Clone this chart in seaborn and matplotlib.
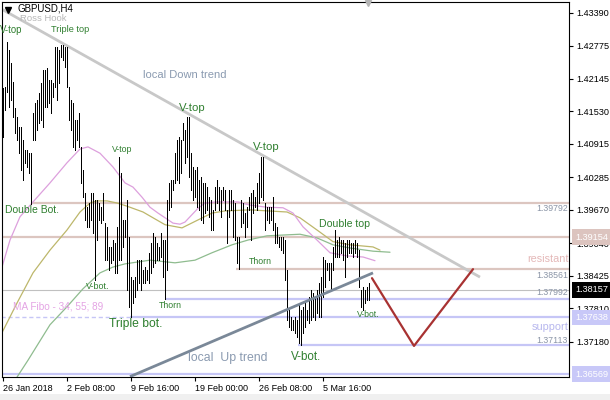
import matplotlib
matplotlib.use("Agg")
import matplotlib.pyplot as plt
import seaborn as sns
import numpy as np
import pandas as pd
from matplotlib.transforms import blended_transform_factory
from matplotlib.patches import Rectangle

sns.set_style("white")
plt.rcParams['font.family'] = ['Liberation Sans', 'DejaVu Sans']

# ---------------- data ----------------
highs = [
    1.4197, 1.4199, 1.4284, 1.4269, 1.4245, 1.4209, 1.4160, 1.4142, 1.4124, 1.4124,
    1.4099, 1.4080, 1.4080, 1.4074, 1.4074, 1.4150, 1.4169, 1.4175, 1.4188, 1.4207,
    1.4231, 1.4231, 1.4235, 1.4212, 1.4212, 1.4207, 1.4275, 1.4275, 1.4269, 1.4279,
    1.4279, 1.4275, 1.4275, 1.4199, 1.4175, 1.4169, 1.4137, 1.4137, 1.4150, 1.4086,
    1.4042, 1.3999, 1.3972, 1.3980, 1.3999, 1.3999, 1.3986, 1.3986, 1.3980, 1.3972,
    1.3999, 1.3942, 1.3935, 1.3897, 1.3897, 1.3910, 1.3904, 1.3935, 1.4067, 1.4037,
    1.3948, 1.3948, 1.3986, 1.3916, 1.3840, 1.3835, 1.3840, 1.3872, 1.3872, 1.3872,
    1.3853, 1.3859, 1.3853, 1.3886, 1.3904, 1.3923, 1.3916, 1.3904, 1.3897, 1.3923,
    1.3910, 1.3910, 1.3986, 1.4018, 1.4023, 1.4023, 1.4074, 1.4099, 1.4105, 1.4099,
    1.4131, 1.4118, 1.4142, 1.4142, 1.4074, 1.4048, 1.4042, 1.4048, 1.4023, 1.4029,
    1.4018, 1.4018, 1.4010, 1.3991, 1.3986, 1.3967, 1.4010, 1.4023, 1.4010, 1.4005,
    1.4010, 1.4005, 1.3967, 1.4005, 1.4005, 1.3986, 1.3980, 1.3916, 1.3916, 1.3986,
    1.3980, 1.3961, 1.3972, 1.3991, 1.3999, 1.4005, 1.3991, 1.4018, 1.4037, 1.4067,
    1.4067, 1.3980, 1.3972, 1.3972, 1.3972, 1.3991, 1.3942, 1.3935, 1.3916, 1.3916,
    1.3916, 1.3910, 1.3853, 1.3778, 1.3765, 1.3759, 1.3765, 1.3759, 1.3791, 1.3778,
    1.3784, 1.3791, 1.3778, 1.3802, 1.3816, 1.3810, 1.3802, 1.3816, 1.3829, 1.3840,
    1.3878, 1.3872, 1.3867, 1.3867, 1.3867, 1.3897, 1.3929, 1.3910, 1.3916, 1.3910,
    1.3910, 1.3904, 1.3910, 1.3910, 1.3904, 1.3904, 1.3910, 1.3904, 1.3891, 1.3816,
    1.3821, 1.3816, 1.3821, 1.3829,
]
lows = [
    1.4105, 1.4156, 1.4190, 1.4161, 1.4175, 1.4142, 1.4112, 1.4099, 1.4074, 1.4042,
    1.4023, 1.4056, 1.4048, 1.4037, 1.3979, 1.4099, 1.4099, 1.4118, 1.4131, 1.4137,
    1.4124, 1.4161, 1.4161, 1.4169, 1.4150, 1.4180, 1.4199, 1.4175, 1.4207, 1.4256,
    1.4250, 1.4237, 1.4199, 1.4137, 1.4118, 1.4086, 1.4080, 1.4099, 1.4086, 1.4018,
    1.3991, 1.3948, 1.3935, 1.3935, 1.3948, 1.3923, 1.3835, 1.3910, 1.3948, 1.3942,
    1.3948, 1.3872, 1.3872, 1.3853, 1.3867, 1.3872, 1.3848, 1.3848, 1.3872, 1.3872,
    1.3897, 1.3916, 1.3816, 1.3784, 1.3764, 1.3791, 1.3802, 1.3816, 1.3829, 1.3816,
    1.3829, 1.3829, 1.3835, 1.3829, 1.3848, 1.3859, 1.3867, 1.3872, 1.3872, 1.3878,
    1.3840, 1.3799, 1.3853, 1.3967, 1.3972, 1.4005, 1.4018, 1.4023, 1.4018, 1.4037,
    1.4099, 1.4056, 1.4067, 1.4029, 1.4005, 1.3986, 1.3991, 1.3972, 1.3967, 1.3948,
    1.3942, 1.3961, 1.3967, 1.3954, 1.3929, 1.3929, 1.3967, 1.3980, 1.3967, 1.3954,
    1.3986, 1.3967, 1.3904, 1.3954, 1.3967, 1.3916, 1.3910, 1.3867, 1.3856, 1.3935,
    1.3942, 1.3916, 1.3935, 1.3967, 1.3910, 1.3961, 1.3972, 1.3967, 1.3980, 1.3991,
    1.3986, 1.3929, 1.3948, 1.3942, 1.3948, 1.3929, 1.3904, 1.3904, 1.3897, 1.3891,
    1.3886, 1.3835, 1.3759, 1.3746, 1.3740, 1.3740, 1.3734, 1.3727, 1.3716, 1.3711,
    1.3734, 1.3746, 1.3759, 1.3753, 1.3759, 1.3765, 1.3759, 1.3772, 1.3765, 1.3765,
    1.3802, 1.3821, 1.3853, 1.3835, 1.3816, 1.3853, 1.3878, 1.3878, 1.3878, 1.3886,
    1.3872, 1.3840, 1.3878, 1.3886, 1.3886, 1.3878, 1.3886, 1.3878, 1.3821, 1.3784,
    1.3778, 1.3791, 1.3797, 1.3797,
]

# moving averages (MA Fibo 34, 55, 89): bar position / price
pink_x = [-0.5, 3.5, 8.5, 15, 23.5, 32, 38.5, 42.5, 48.5, 55, 61, 65, 69.5, 73.5, 77.5,
          85, 88.5, 91, 97.5, 101, 107, 117.5, 123.5, 132, 140, 145, 150, 157, 163.5,
          172, 180, 186]
pink_y = [1.3859, 1.3910, 1.3954, 1.3982, 1.4018, 1.4056, 1.4082, 1.4086, 1.4074, 1.4048,
          1.4018, 1.4010, 1.3991, 1.3972, 1.3961, 1.3942, 1.3940, 1.3944, 1.3970, 1.3980,
          1.3982, 1.3982, 1.3976, 1.3972, 1.3971, 1.3961, 1.3935, 1.3910, 1.3886, 1.3880,
          1.3878, 1.3871]
olive_x = [-0.5, 7, 15, 23.5, 32, 38.5, 43.5, 47, 52, 57, 62, 70, 81, 89.5, 97.5, 104.5,
           111, 123.5, 142, 148.5, 157, 165, 173.5, 185, 188.5]
olive_y = [1.3735, 1.3791, 1.3848, 1.3891, 1.3929, 1.3963, 1.3980, 1.3984, 1.3984, 1.3980,
           1.3974, 1.3963, 1.3939, 1.3933, 1.3948, 1.3961, 1.3965, 1.3967, 1.3963, 1.3952,
           1.3929, 1.3907, 1.3901, 1.3897, 1.3891]
green_x = [7, 12.5, 23.5, 32, 40, 48.5, 55, 61, 73.5, 86, 96, 104.5, 114.5, 122.5, 132,
           148.5, 157, 165, 173.5, 185, 193.5]
green_y = [1.3651, 1.3683, 1.3750, 1.3784, 1.3818, 1.3848, 1.3859, 1.3865, 1.3872, 1.3867,
           1.3872, 1.3886, 1.3901, 1.3910, 1.3918, 1.3921, 1.3914, 1.3901, 1.3895, 1.3889,
           1.3887]

# trend lines and forecast path
down_x = [-1.5, 238.5]
down_y = [1.4348, 1.3840]
up_x = [63.5, 185]
up_y = [1.3652, 1.3848]
zig_x = [184.5, 205.5, 235]
zig_y = [1.3838, 1.3710, 1.3855]

# horizontal levels: price, start bar
res_levels = [(1.39792, 14), (1.39154, -1), (1.38561, 116.5)]
sup_levels = [(1.37992, 81), (1.37638, 63.5), (1.37113, 147.5), (1.36569, -1)]
current_price = 1.38157

ytick_vals = [1.43390, 1.42775, 1.42145, 1.41530, 1.40915, 1.40285, 1.39670,
              1.39040, 1.38425, 1.37810, 1.37180]
xtick_pos = [0, 32, 64, 96, 128, 160]
xtick_labels = ["26 Jan 2018", "2 Feb 08:00", "9 Feb 16:00", "19 Feb 00:00",
                "26 Feb 08:00", "5 Mar 16:00"]

# ---------------- figure ----------------
fig = plt.figure(figsize=(6.1, 4.0), dpi=100)
fig.patches.append(Rectangle((0, 0), 1, 6 / 400, transform=fig.transFigure,
                             fc='#f0f0f0', ec='none', zorder=0))
ax = fig.add_axes([2 / 610, 23 / 400, 567 / 610, 375 / 400])
XMAX = 283
ax.set_xlim(-0.5, XMAX)
ax.set_ylim(1.36513, 1.43597)

ROSY = '#dcc6c0'
LAV = '#c6c6f6'
GREEN_TXT = '#2f7f2f'
TREND_TXT = '#8a9ab0'

# levels
for p, x0 in res_levels:
    ax.hlines(p, x0, XMAX, colors=ROSY, linewidth=1.6, zorder=1)
for p, x0 in sup_levels:
    ax.hlines(p, x0, XMAX, colors=LAV, linewidth=1.6, zorder=1)
ax.hlines(1.37638, -1, 63.5, colors=LAV, linewidth=1.0, linestyles=(0, (3, 2)), zorder=1)
ax.hlines(current_price, -1, XMAX, colors='#c0c0c0', linewidth=0.8, zorder=1)

# moving averages
sns.lineplot(x=green_x, y=green_y, ax=ax, color='#8fbc8f', linewidth=0.9,
             sort=False, estimator=None, legend=False, zorder=2)
sns.lineplot(x=olive_x, y=olive_y, ax=ax, color='#bdb76b', linewidth=0.9,
             sort=False, estimator=None, legend=False, zorder=2)
sns.lineplot(x=pink_x, y=pink_y, ax=ax, color='#dda0dd', linewidth=0.9,
             sort=False, estimator=None, legend=False, zorder=2)

# trend lines
ax.plot(down_x, down_y, color='#c8c8c8', linewidth=2.0, zorder=2, solid_capstyle='butt')
ax.plot(up_x, up_y, color='#7a8898', linewidth=2.0, zorder=4, solid_capstyle='butt')
ax.plot(zig_x, zig_y, color='#a83232', linewidth=1.6, zorder=4)

# bars
idx = np.arange(len(highs))
ax.vlines(idx, lows, highs, colors='black', linewidth=0.55, antialiased=False, zorder=3)

# annotations
def label(x, y, s, size, color=GREEN_TXT):
    ax.text(x, y, s, fontsize=size, color=color, ha='left', va='center', zorder=5)

label(-1.5, 1.4307, "V-top", 6.9)
label(24, 1.4307, "Triple top", 6.6)
label(70, 1.4222, "local Down trend", 8.0, TREND_TXT)
label(88, 1.4160, "V-top", 8.2)
label(54.5, 1.4082, "V-top", 6.3)
label(125, 1.4086, "V-top", 8.2)
label(1, 1.3967, "Double Bot.", 7.5)
label(158, 1.3940, "Double top", 7.6)
label(123, 1.3870, "Thorn", 6.3)
label(41.5, 1.3822, "V-bot.", 6.5)
label(78, 1.3786, "Thorn", 6.3)
label(53, 1.3752, "Triple bot.", 8.7)
label(5, 1.3784, "MA Fibo - 34, 55; 89", 7.2, '#e4a4e4')
label(92.5, 1.3688, "local  Up trend", 8.8, TREND_TXT)
label(144, 1.3690, "V-bot.", 8.4)
label(177, 1.3770, "V-bot.", 6.2)
label(7, 1.4347, "GBPUSD,H4", 7.0, 'black')
label(8.5, 1.4328, "Ross Hook", 6.8, '#b8b8b8')
ax.plot([2.5], [1.4344], marker='v', color='black', markersize=4, zorder=5)
ax.plot([182.5], [1.4357], marker='v', color='#b4b4b4', markersize=5, zorder=5,
        clip_on=False)

bt = blended_transform_factory(ax.transAxes, ax.transData)
for s, y in [("1.39792", 1.39687), ("1.38561", 1.38431), ("1.37992", 1.38106),
             ("1.37113", 1.37194)]:
    ax.text(0.998, y, s, transform=bt, fontsize=6.3, color='#8a94a6',
            ha='right', va='center', zorder=5)
ax.text(0.999, 1.38743, "resistant", transform=bt, fontsize=7.8, color='#e4b8b8',
        ha='right', va='center', zorder=5)
ax.text(0.999, 1.37464, "support", transform=bt, fontsize=7.9, color='#b8b8ee',
        ha='right', va='center', zorder=5)

# axes styling
for sp in ax.spines.values():
    sp.set_visible(True)
    sp.set_color('black')
    sp.set_linewidth(0.8)
ax.yaxis.tick_right()
ax.set_yticks(ytick_vals)
ax.set_yticklabels([f"{v:.5f}" for v in ytick_vals])
ax.set_xticks(xtick_pos)
ax.set_xticklabels(xtick_labels)
for lbl in ax.get_xticklabels():
    lbl.set_ha('left')
ax.tick_params(axis='y', which='both', right=True, left=False, length=3, width=0.8,
               labelsize=6.6, pad=2, colors='black')
ax.tick_params(axis='x', which='both', bottom=True, length=3, width=0.8,
               labelsize=6.5, pad=2, colors='black')
ax.grid(False)

# price badges on the right axis
for s, fc in [("1.39154", '#dcc4bf'), ("1.38157", 'black'), ("1.37638", '#c8c8f8'),
              ("1.36569", '#c8c8f8')]:
    ax.text(1.0106, float(s), s, transform=bt, fontsize=6.6, color='white',
            ha='left', va='center', zorder=10, clip_on=False,
            bbox=dict(boxstyle='square,pad=0.35', fc=fc, ec='none'))

fig.savefig('out.png', dpi=100)
